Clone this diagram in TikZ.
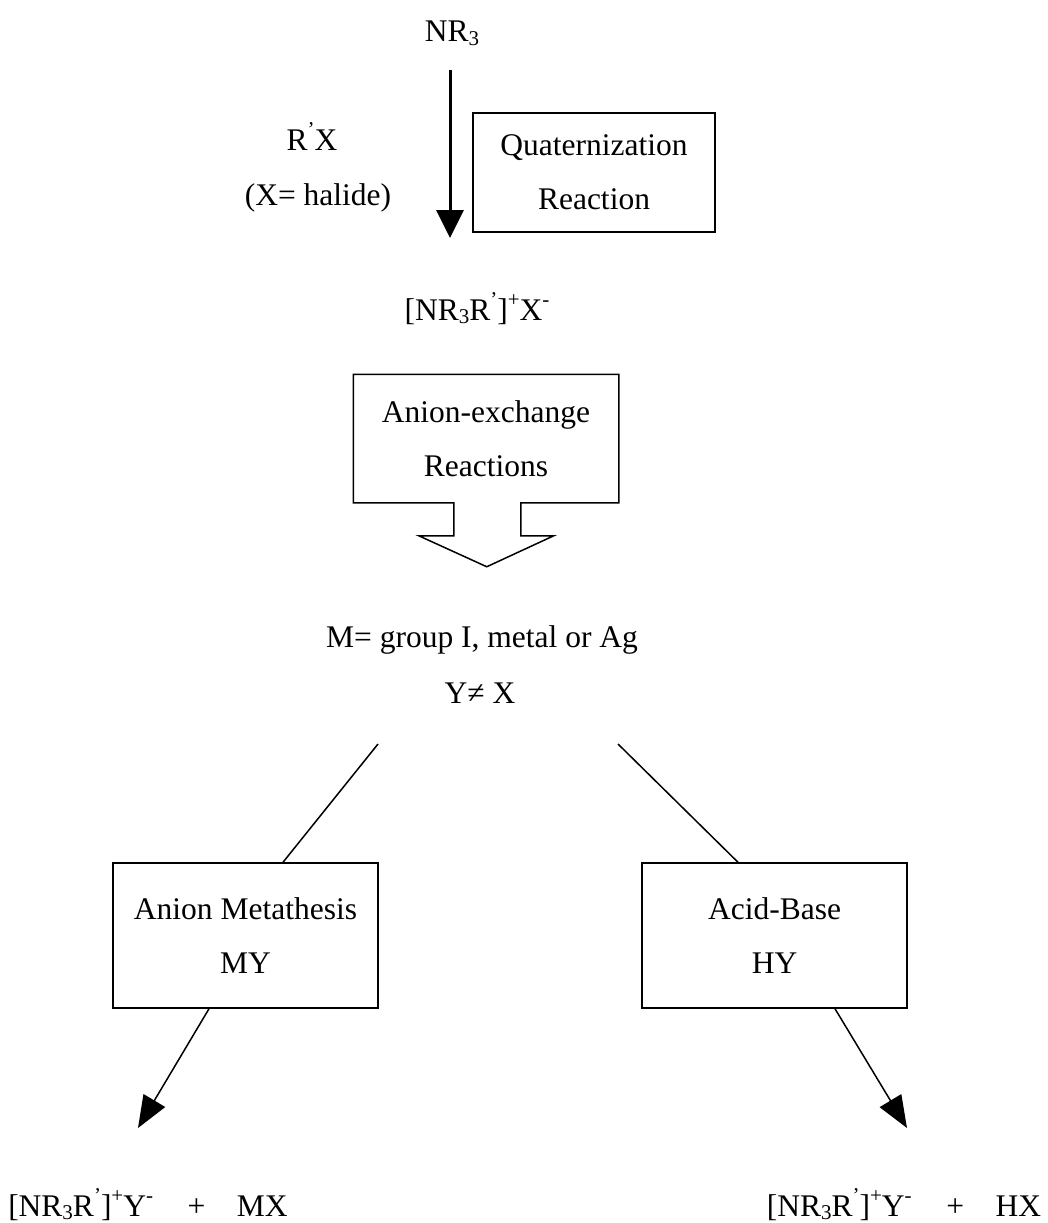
\documentclass[tikz,border=0pt]{standalone}
\usepackage{fontspec}
\setmainfont{Liberation Serif}
\usetikzlibrary{arrows.meta,calc}

\newcommand{\lowidx}[1]{\raisebox{-0.12em}{\fontsize{21}{21}\selectfont #1}}
\newcommand{\highidx}[1]{\raisebox{0.42em}{\fontsize{21}{21}\selectfont #1}}

\tikzset{
    txt/.style={inner sep=0pt, anchor=base, font=\fontsize{31.5}{54}\selectfont},
    procbox/.style={draw, line width=1.5pt, align=center, inner sep=0pt,
        font=\fontsize{31.5}{54}\selectfont},
    bigarrow/.style={line width=3pt, -{Triangle[width=27pt,length=28pt]}},
    slimarrow/.style={line width=1.5pt, -{Triangle[width=25pt,length=32pt]}},
    splitline/.style={line width=1.5pt}
}

\begin{document}
\begin{tikzpicture}[x=1pt, y=-1pt]
    \useasboundingbox (0,0) rectangle (1048,1223);

    % quaternization step
    \node[txt] (nr3) at (452,42) {NR\lowidx{3}};
    \node[txt] (rx) at (312,150) {R\highidx{’}X};
    \node[txt] (halide) at (318,205) {(X= halide)};
    \node[procbox, minimum width=242pt, minimum height=119pt] (quat) at (594,172.5) {Quaternization\\Reaction};
    \node[txt] (salt) at (477,320) {[NR\lowidx{3}R\highidx{’}]\highidx{+}X\highidx{-}};
    \coordinate (qtop) at (450,70);
    \coordinate (qbot) at (450,238);
    \draw[bigarrow] (qtop) -- (qbot);

    % anion exchange callout
    \node[procbox, draw=none, minimum width=264pt, minimum height=127pt] (exch) at (486,438.5) {Anion-exchange\\Reactions};
    \draw[line width=1.5pt, line join=miter] (exch.south west) |- (exch.north east) -- (exch.south east)
        -- ++(-98,0) -- ++(0,33) -- ++(33,0) -- ++(-67,31) -- ++(-68,-31) -- ++(35,0) -- ++(0,-33) -- cycle;

    \node[txt] (mdef) at (482,647) {M= group I, metal or Ag};
    \node[txt] (ydef) at (480,703) {Y≠ X};

    % two routes
    \node[procbox, minimum width=265pt, minimum height=145pt] (meta) at (245.5,935.5) {Anion Metathesis\\MY};
    \node[procbox, minimum width=265pt, minimum height=145pt] (acid) at (774.5,935.5) {Acid-Base\\HY};
    \coordinate (lsplit) at (378,744);
    \coordinate (rsplit) at (618,744);
    \path[splitline] (lsplit) edge ([xshift=37.5pt]meta.north);
    \path[splitline] (rsplit) edge ([xshift=-36.5pt]acid.north);

    % products
    \node[txt] (prodl) at (148,1216) {[NR\lowidx{3}R\highidx{’}]\highidx{+}Y\highidx{-}\hspace{1.1em}+\hspace{1em}MX};
    \node[txt] (prodr) at (904,1216) {[NR\lowidx{3}R\highidx{’}]\highidx{+}Y\highidx{-}\hspace{1.1em}+\hspace{1em}HX};
    \coordinate (ltip) at (138,1128);
    \coordinate (rtip) at (907,1128);
    \draw[slimarrow] ([xshift=-36.5pt]meta.south) -- (ltip);
    \draw[slimarrow] ([xshift=60.5pt]acid.south) -- (rtip);
\end{tikzpicture}
\end{document}
